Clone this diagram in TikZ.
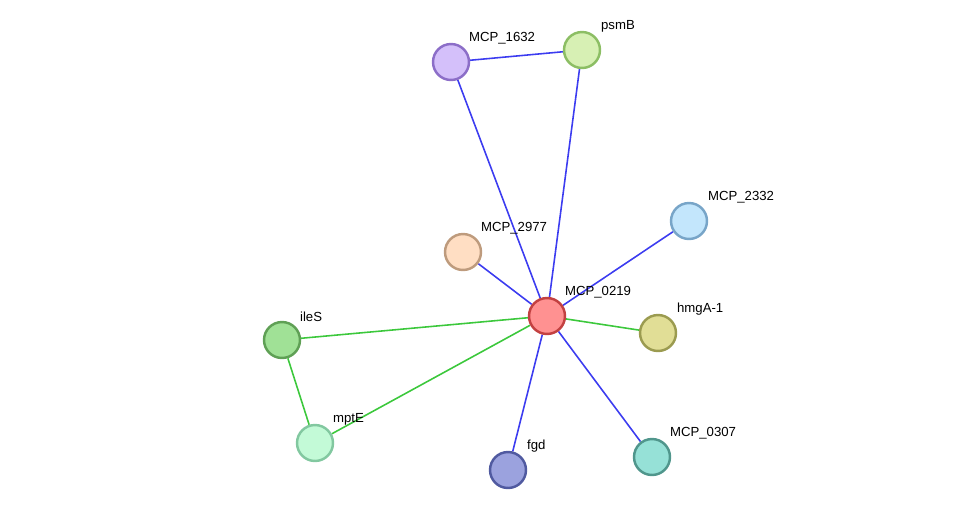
\documentclass[tikz,border=0pt]{standalone}
\usepackage{fontspec}
\setmainfont{Liberation Sans}
\usetikzlibrary{positioning, backgrounds}
\definecolor{edgeblue}{RGB}{60, 60, 240}
\definecolor{edgegreen}{RGB}{60, 200, 60}

\begin{document}
\begin{tikzpicture}[x=0.02cm, y=-0.02cm,
    prot/.style={circle, draw, line width=1.4pt, minimum size=0.72cm, inner sep=0pt},
    lbl/.style={anchor=south west, inner sep=1pt, font=\fontsize{7.5}{8}\selectfont},
    blue/.style={draw=edgeblue, line width=0.9pt},
    green/.style={draw=edgegreen, line width=0.9pt}]
    \useasboundingbox (0,0) rectangle (976,515);

    % Proteins
    \node[prot, fill={rgb,255:red,212;green,192;blue,250}, draw={rgb,255:red,140;green,110;blue,200}] (m1632) at (451,62) {};
    \node[prot, fill={rgb,255:red,215;green,240;blue,180}, draw={rgb,255:red,140;green,190;blue,100}] (psmB) at (582,50) {};
    \node[prot, fill={rgb,255:red,195;green,230;blue,252}, draw={rgb,255:red,120;green,165;blue,200}] (m2332) at (689,221) {};
    \node[prot, fill={rgb,255:red,255;green,222;blue,195}, draw={rgb,255:red,190;green,155;blue,125}] (m2977) at (463,252) {};
    \node[prot, fill={rgb,255:red,255;green,145;blue,145}, draw={rgb,255:red,195;green,65;blue,65}] (m0219) at (547,316) {};
    \node[prot, fill={rgb,255:red,160;green,225;blue,150}, draw={rgb,255:red,95;green,160;blue,85}] (ileS) at (282,340) {};
    \node[prot, fill={rgb,255:red,225;green,222;blue,150}, draw={rgb,255:red,155;green,155;blue,80}] (hmgA) at (658,333) {};
    \node[prot, fill={rgb,255:red,195;green,250;blue,215}, draw={rgb,255:red,130;green,200;blue,160}] (mptE) at (315,443) {};
    \node[prot, fill={rgb,255:red,155;green,162;blue,222}, draw={rgb,255:red,80;green,90;blue,160}] (fgd) at (508,470) {};
    \node[prot, fill={rgb,255:red,150;green,225;blue,215}, draw={rgb,255:red,80;green,150;blue,140}] (m0307) at (652,457) {};

    % Labels
    \node[lbl] at (467,46) {MCP\_1632};
    \node[lbl] at (599,34) {psmB};
    \node[lbl] at (706,205) {MCP\_2332};
    \node[lbl] at (479,236) {MCP\_2977};
    \node[lbl] at (563,300) {MCP\_0219};
    \node[lbl] at (298,324) {ileS};
    \node[lbl] at (675,317) {hmgA-1};
    \node[lbl] at (331,427) {mptE};
    \node[lbl] at (525,454) {fgd};
    \node[lbl] at (668,441) {MCP\_0307};

    % Edges
    \begin{pgfonlayer}{background}
    \draw[blue] (m1632) -- (psmB);
    \draw[blue] (m1632) -- (m0219);
    \draw[blue] (psmB) -- (m0219);
    \draw[blue] (m2332) -- (m0219);
    \draw[blue] (m2977) -- (m0219);
    \draw[blue] (m0219) -- (fgd);
    \draw[blue] (m0219) -- (m0307);
    \draw[green] (m0219) -- (ileS);
    \draw[green] (m0219) -- (hmgA);
    \draw[green] (m0219) -- (mptE);
    \draw[green] (ileS) -- (mptE);
    \end{pgfonlayer}
\end{tikzpicture}
\end{document}
